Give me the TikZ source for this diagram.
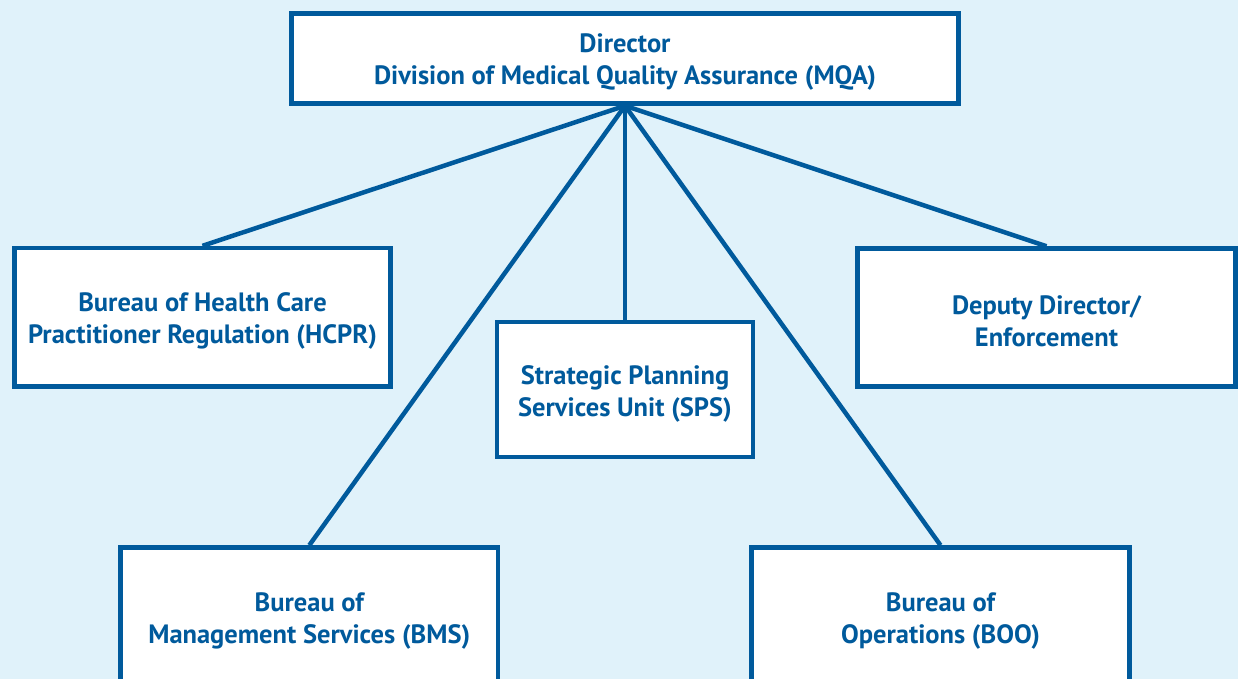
\documentclass[tikz,border=0pt]{standalone}
\usepackage{fontspec}
\setmainfont{PT Sans}
\definecolor{mqablue}{RGB}{0,90,156}
\definecolor{mqabg}{RGB}{224,242,250}
\begin{document}
\begin{tikzpicture}[x=1pt,y=-1pt,
  lbl/.style={align=center, text=mqablue, font=\fontsize{26.5}{32}\selectfont\bfseries},
  box/.style={draw=mqablue, line width=4.5pt, fill=white, rectangle, inner sep=0pt},
  link/.style={draw=mqablue, line width=4.5pt}]
\useasboundingbox (0,0) rectangle (1238,679);
\clip (0,0) rectangle (1238,679);
\fill[mqabg] (0,0) rectangle (1238,679);
\node[box, minimum width=667pt, minimum height=90pt] (dir) at (625,58.5) {};
\node[box, minimum width=376pt, minimum height=138.5pt] (hcpr) at (202.5,317.3) {};
\node[box, minimum width=256pt, minimum height=135pt] (sps) at (625,389.5) {};
\node[box, minimum width=378pt, minimum height=138pt] (dep) at (1046.5,317.5) {};
\node[box, minimum width=377.5pt, minimum height=200pt] (bms) at (309.3,647.5) {};
\node[box, minimum width=378pt, minimum height=200pt] (boo) at (940.5,647.5) {};
\node[lbl] (dirt) at (625,62) {Director\\Division of Medical Quality Assurance (MQA)};
\node[lbl] (hcprt) at (202.5,321) {Bureau of Health Care\\Practitioner Regulation (HCPR)};
\node[lbl] (spst) at (625,394) {Strategic Planning\\Services Unit (SPS)};
\node[lbl] (dept) at (1046.5,321) {Deputy Director/\\Enforcement};
\node[lbl] (bmst) at (309.3,621) {Bureau of\\Management Services (BMS)};
\node[lbl] (boot) at (940.5,621) {Bureau of\\Operations (BOO)};
\draw[link] (dir.south) -- (hcpr.north);
\draw[link] (dir.south) -- (sps.north);
\draw[link] (dir.south) -- (dep.north);
\draw[link] (dir.south) -- (bms.north);
\draw[link] (dir.south) -- (boo.north);
\end{tikzpicture}
\end{document}
